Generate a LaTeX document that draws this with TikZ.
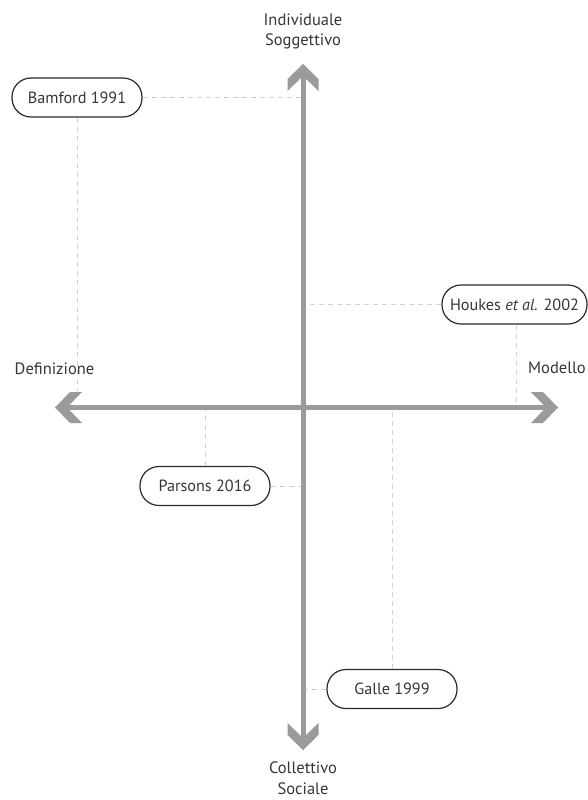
\documentclass[tikz,border=0pt]{standalone}
\usepackage{fontspec}
\setmainfont{PT Sans}
\usetikzlibrary{positioning}
\definecolor{axisgray}{HTML}{9B9B9B}
\definecolor{guidegray}{HTML}{D2D2D2}
\definecolor{inkgray}{HTML}{363636}
\definecolor{boxline}{HTML}{2A2A2A}
\tikzset{
  axisline/.style={draw=axisgray, line width=5pt},
  guide/.style={draw=guidegray, line width=0.9pt, dash pattern=on 5pt off 4pt},
  refbox/.style={draw=boxline, line width=1.2pt, rounded corners=19pt, fill=white,
    minimum height=39pt, minimum width=130pt, inner xsep=5pt,
    text=inkgray, font=\fontsize{16.2}{19}\selectfont},
  axislabel/.style={text=inkgray, align=center, font=\fontsize{16.5}{20.5}\selectfont, inner sep=0pt},
  chev/.pic={\fill[axisgray] (0,0) -- (-15,15.5) -- (-27,15.5) -- (-12,0) -- (-27,-15.5) -- (-15,-15.5) -- cycle;}
}
\begin{document}
\begin{tikzpicture}[x=1pt,y=-1pt]
  \useasboundingbox[fill=white] (0,0) rectangle (587,800);

  % axis end points and centre
  \coordinate (top) at (303,64);
  \coordinate (bottom) at (303,750);
  \coordinate (left) at (55,407.5);
  \coordinate (right) at (558,407.5);
  \coordinate (origin) at (303,407.5);

  % reference boxes
  \node[refbox] (bam) at (77,97.5) {Bamford 1991};
  \node[refbox, minimum width=145pt] (hou) at (514.5,304.5) {Houkes \textit{et al.} 2002};
  \node[refbox] (par) at (205,486) {Parsons 2016};
  \node[refbox] (gal) at (392,689) {Galle 1999};

  \coordinate (bamfoot) at (77,391);

  % dashed guides from each box to the axes
  \draw[guide] (bam.east) -- (bam.east -| origin);
  \draw[guide] (bam.south) -- (bamfoot);
  \draw[guide] (hou.west) -- (hou.west -| origin);
  \draw[guide] (hou.south -| right) ++(-42,0) coordinate (houfoot) -- (houfoot |- origin);
  \draw[guide] (par.east) -- (par.east -| origin);
  \draw[guide] (par.north) -- (par.north |- origin);
  \draw[guide] (gal.west) -- (gal.west -| origin);
  \draw[guide] (gal.north) -- (gal.north |- origin);

  % axes
  \draw[axisline] ([xshift=12pt]left) -- ([xshift=-12pt]right);
  \draw[axisline] ([yshift=-12pt]top) -- ([yshift=12pt]bottom);
  \pic at (right) {chev};
  \pic[rotate=180] at (left) {chev};
  \pic[rotate=90] at (top) {chev};
  \pic[rotate=-90] at (bottom) {chev};

  % axis labels
  \node[axislabel] (indiv) at (303,31.5) {Individuale\\Soggettivo};
  \node[axislabel] (coll) at (303,778) {Collettivo\\Sociale};
  \node[axislabel] (defin) at (54.5,369) {Definizione};
  \node[axislabel] (model) at (557,368) {Modello};
\end{tikzpicture}
\end{document}
